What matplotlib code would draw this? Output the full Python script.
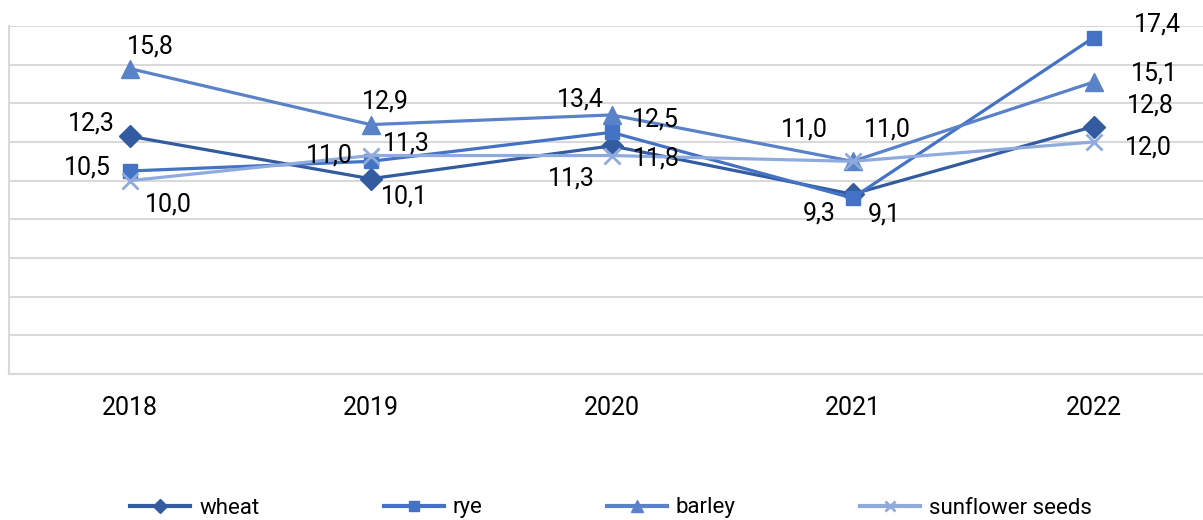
import matplotlib
matplotlib.use('Agg')
import matplotlib.pyplot as plt

plt.rcParams['font.family'] = ['Roboto', 'DejaVu Sans']

years = ['2018', '2019', '2020', '2021', '2022']
wheat = [12.3, 10.1, 11.8, 9.3, 12.8]
rye = [10.5, 11.0, 12.5, 9.1, 17.4]
barley = [15.8, 12.9, 13.4, 11.0, 15.1]
sunflower = [10.0, 11.3, 11.3, 11.0, 12.0]

series = [
    ('wheat', wheat, '#335B9F', 'D', 11),
    ('rye', rye, '#4472C4', 's', 10),
    ('barley', barley, '#5A82C9', '^', 13),
    ('sunflower seeds', sunflower, '#8FAADC', 'x', 11),
]

# label offsets in pixels (dx, dy up) per series / year
offsets = {
    'wheat': [(-38, 13), (34, -18), (45, -13), (-33, -19), (57, 21)],
    'rye': [(-42, 3), (-41, 6), (44, 13), (32, -16), (64, 13)],
    'barley': [(21, 22), (15, 23), (-31, 15), (-48, 32), (61, 9)],
    'sunflower seeds': [(39, -24), (36, 12), (-40, -23), (35, 32), (55, -5)],
}

fig = plt.figure(figsize=(12.03, 5.2), dpi=100)
ax = fig.add_axes([9 / 1203, 146 / 520, 1205 / 1203, 348 / 520])

x = list(range(len(years)))
for name, vals, col, mk, ms in series:
    mew = 2 if mk == 'x' else 1
    ax.plot(x, vals, color=col, lw=2.3, marker=mk, markersize=ms,
            markeredgewidth=mew, label=name, zorder=3)
    for i, v in enumerate(vals):
        dx, dy = offsets[name][i]
        ax.annotate(f'{v:.1f}'.replace('.', ','), (i, v), xytext=(dx, dy),
                    textcoords='offset pixels', ha='center', va='center',
                    fontsize=18, color='black', zorder=4)

ax.set_xlim(-0.5, 4.5)
ax.set_ylim(0, 18)
ax.set_yticks(range(0, 19, 2))
ax.set_yticklabels([])
ax.tick_params(axis='y', length=0)
ax.grid(axis='y', color='#D9D9D9', lw=1.5)
ax.set_axisbelow(True)
ax.set_xticks(x)
ax.set_xticklabels(years, fontsize=18)
ax.tick_params(axis='x', length=0, pad=16)
for s in ['top', 'right']:
    ax.spines[s].set_visible(False)
ax.spines['left'].set_color('#D9D9D9')
ax.spines['left'].set_linewidth(1.5)
ax.spines['bottom'].set_color('#D9D9D9')
ax.spines['bottom'].set_linewidth(1.5)

leg = fig.legend(loc='center', bbox_to_anchor=(611 / 1203, 12 / 520), ncol=4,
                 frameon=False, fontsize=16, handlelength=2.7, handletextpad=0.4,
                 columnspacing=5.6, markerscale=0.65)
for line in leg.get_lines():
    line.set_linewidth(3)

fig.savefig('out.png', dpi=100)
